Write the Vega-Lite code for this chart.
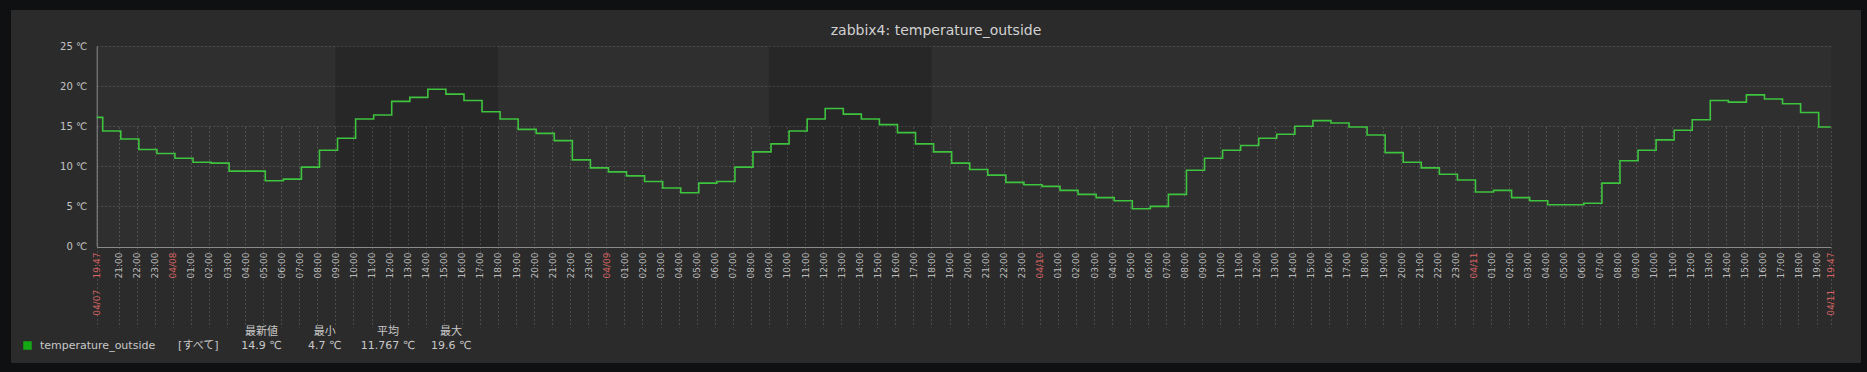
{
  "$schema": "https://vega.github.io/schema/vega-lite/v6.json",
  "width": 1850,
  "height": 353,
  "autosize": {"type": "none"},
  "padding": {"left": 11, "top": 10, "right": 6, "bottom": 9},
  "background": "#0f1012",
  "title": {
    "text": "zabbix4: temperature_outside",
    "anchor": "middle",
    "frame": "group",
    "offset": -39,
    "baseline": "alphabetic",
    "font": "DejaVu Sans",
    "fontSize": 14,
    "fontWeight": "normal",
    "color": "#d2d2d2"
  },
  "config": {
    "view": {"fill": "#2b2b2b", "stroke": null}
  },
  "datasets": {
    "temps": [
      {"t": "2021-04-07T19:47:00Z", "v": 16.1},
      {"t": "2021-04-07T20:07:00Z", "v": 14.4},
      {"t": "2021-04-07T21:07:00Z", "v": 13.4},
      {"t": "2021-04-07T22:07:00Z", "v": 12.1},
      {"t": "2021-04-07T23:07:00Z", "v": 11.6},
      {"t": "2021-04-08T00:07:00Z", "v": 11.0},
      {"t": "2021-04-08T01:07:00Z", "v": 10.5},
      {"t": "2021-04-08T02:07:00Z", "v": 10.4},
      {"t": "2021-04-08T03:07:00Z", "v": 9.4},
      {"t": "2021-04-08T04:07:00Z", "v": 9.4},
      {"t": "2021-04-08T05:07:00Z", "v": 8.2},
      {"t": "2021-04-08T06:07:00Z", "v": 8.4},
      {"t": "2021-04-08T07:07:00Z", "v": 9.9},
      {"t": "2021-04-08T08:07:00Z", "v": 12.0},
      {"t": "2021-04-08T09:07:00Z", "v": 13.5},
      {"t": "2021-04-08T10:07:00Z", "v": 15.9},
      {"t": "2021-04-08T11:07:00Z", "v": 16.4},
      {"t": "2021-04-08T12:07:00Z", "v": 18.1},
      {"t": "2021-04-08T13:07:00Z", "v": 18.6},
      {"t": "2021-04-08T14:07:00Z", "v": 19.6},
      {"t": "2021-04-08T15:07:00Z", "v": 19.0},
      {"t": "2021-04-08T16:07:00Z", "v": 18.2},
      {"t": "2021-04-08T17:07:00Z", "v": 16.8},
      {"t": "2021-04-08T18:07:00Z", "v": 15.9},
      {"t": "2021-04-08T19:07:00Z", "v": 14.6},
      {"t": "2021-04-08T20:07:00Z", "v": 14.1},
      {"t": "2021-04-08T21:07:00Z", "v": 13.2},
      {"t": "2021-04-08T22:07:00Z", "v": 10.8},
      {"t": "2021-04-08T23:07:00Z", "v": 9.8},
      {"t": "2021-04-09T00:07:00Z", "v": 9.3},
      {"t": "2021-04-09T01:07:00Z", "v": 8.8},
      {"t": "2021-04-09T02:07:00Z", "v": 8.1},
      {"t": "2021-04-09T03:07:00Z", "v": 7.3},
      {"t": "2021-04-09T04:07:00Z", "v": 6.7},
      {"t": "2021-04-09T05:07:00Z", "v": 7.9},
      {"t": "2021-04-09T06:07:00Z", "v": 8.1},
      {"t": "2021-04-09T07:07:00Z", "v": 9.9},
      {"t": "2021-04-09T08:07:00Z", "v": 11.8},
      {"t": "2021-04-09T09:07:00Z", "v": 12.8},
      {"t": "2021-04-09T10:07:00Z", "v": 14.4},
      {"t": "2021-04-09T11:07:00Z", "v": 15.9},
      {"t": "2021-04-09T12:07:00Z", "v": 17.2},
      {"t": "2021-04-09T13:07:00Z", "v": 16.5},
      {"t": "2021-04-09T14:07:00Z", "v": 15.9},
      {"t": "2021-04-09T15:07:00Z", "v": 15.2},
      {"t": "2021-04-09T16:07:00Z", "v": 14.2},
      {"t": "2021-04-09T17:07:00Z", "v": 12.8},
      {"t": "2021-04-09T18:07:00Z", "v": 11.8},
      {"t": "2021-04-09T19:07:00Z", "v": 10.4},
      {"t": "2021-04-09T20:07:00Z", "v": 9.6},
      {"t": "2021-04-09T21:07:00Z", "v": 8.9},
      {"t": "2021-04-09T22:07:00Z", "v": 8.0},
      {"t": "2021-04-09T23:07:00Z", "v": 7.7},
      {"t": "2021-04-10T00:07:00Z", "v": 7.5},
      {"t": "2021-04-10T01:07:00Z", "v": 7.0},
      {"t": "2021-04-10T02:07:00Z", "v": 6.5},
      {"t": "2021-04-10T03:07:00Z", "v": 6.1},
      {"t": "2021-04-10T04:07:00Z", "v": 5.7},
      {"t": "2021-04-10T05:07:00Z", "v": 4.7},
      {"t": "2021-04-10T06:07:00Z", "v": 5.0},
      {"t": "2021-04-10T07:07:00Z", "v": 6.5},
      {"t": "2021-04-10T08:07:00Z", "v": 9.5},
      {"t": "2021-04-10T09:07:00Z", "v": 11.0},
      {"t": "2021-04-10T10:07:00Z", "v": 12.0},
      {"t": "2021-04-10T11:07:00Z", "v": 12.6},
      {"t": "2021-04-10T12:07:00Z", "v": 13.5},
      {"t": "2021-04-10T13:07:00Z", "v": 14.0},
      {"t": "2021-04-10T14:07:00Z", "v": 15.0},
      {"t": "2021-04-10T15:07:00Z", "v": 15.7},
      {"t": "2021-04-10T16:07:00Z", "v": 15.4},
      {"t": "2021-04-10T17:07:00Z", "v": 14.9},
      {"t": "2021-04-10T18:07:00Z", "v": 13.9},
      {"t": "2021-04-10T19:07:00Z", "v": 11.7},
      {"t": "2021-04-10T20:07:00Z", "v": 10.5},
      {"t": "2021-04-10T21:07:00Z", "v": 9.8},
      {"t": "2021-04-10T22:07:00Z", "v": 9.0},
      {"t": "2021-04-10T23:07:00Z", "v": 8.3},
      {"t": "2021-04-11T00:07:00Z", "v": 6.8},
      {"t": "2021-04-11T01:07:00Z", "v": 7.0},
      {"t": "2021-04-11T02:07:00Z", "v": 6.1},
      {"t": "2021-04-11T03:07:00Z", "v": 5.7},
      {"t": "2021-04-11T04:07:00Z", "v": 5.2},
      {"t": "2021-04-11T05:07:00Z", "v": 5.2},
      {"t": "2021-04-11T06:07:00Z", "v": 5.4},
      {"t": "2021-04-11T07:07:00Z", "v": 7.9},
      {"t": "2021-04-11T08:07:00Z", "v": 10.7},
      {"t": "2021-04-11T09:07:00Z", "v": 12.0},
      {"t": "2021-04-11T10:07:00Z", "v": 13.3},
      {"t": "2021-04-11T11:07:00Z", "v": 14.5},
      {"t": "2021-04-11T12:07:00Z", "v": 15.8},
      {"t": "2021-04-11T13:07:00Z", "v": 18.2},
      {"t": "2021-04-11T14:07:00Z", "v": 18.0},
      {"t": "2021-04-11T15:07:00Z", "v": 18.9},
      {"t": "2021-04-11T16:07:00Z", "v": 18.4},
      {"t": "2021-04-11T17:07:00Z", "v": 17.8},
      {"t": "2021-04-11T18:07:00Z", "v": 16.7},
      {"t": "2021-04-11T19:07:00Z", "v": 14.9},
      {"t": "2021-04-11T19:47:00Z", "v": 14.9}
    ],
    "shade": [
      {"start": "2021-04-07T19:47:00Z", "end": "2021-04-08T09:00:00Z", "kind": "nonwork"},
      {"start": "2021-04-08T09:00:00Z", "end": "2021-04-08T18:00:00Z", "kind": "work"},
      {"start": "2021-04-08T18:00:00Z", "end": "2021-04-09T09:00:00Z", "kind": "nonwork"},
      {"start": "2021-04-09T09:00:00Z", "end": "2021-04-09T18:00:00Z", "kind": "work"},
      {"start": "2021-04-09T18:00:00Z", "end": "2021-04-11T19:47:00Z", "kind": "nonwork"}
    ],
    "table": [
      {"col": "mode", "row": "val", "txt": "[すべて]"},
      {"col": "last", "row": "hdr", "txt": "最新値"},
      {"col": "last", "row": "val", "txt": "14.9 ℃"},
      {"col": "min", "row": "hdr", "txt": "最小"},
      {"col": "min", "row": "val", "txt": "4.7 ℃"},
      {"col": "avg", "row": "hdr", "txt": "平均"},
      {"col": "avg", "row": "val", "txt": "11.767 ℃"},
      {"col": "max", "row": "hdr", "txt": "最大"},
      {"col": "max", "row": "val", "txt": "19.6 ℃"}
    ]
  },
  "layer": [
    {
      "layer": [
        {
          "data": {"name": "shade"},
          "transform": [{"filter": "datum.kind == 'nonwork'"}],
          "mark": {"type": "rect", "color": "#ffffff", "opacity": 0.025},
          "encoding": {
            "x": {"field": "start", "type": "temporal"},
            "x2": {"field": "end"},
            "y": {"datum": 0, "type": "quantitative"},
            "y2": {"datum": 25}
          }
        },
        {
          "data": {"name": "shade"},
          "transform": [{"filter": "datum.kind == 'work'"}],
          "mark": {"type": "rect", "color": "#000000", "opacity": 0.08},
          "encoding": {
            "x": {"field": "start", "type": "temporal"},
            "x2": {"field": "end"},
            "y": {"datum": 0, "type": "quantitative"},
            "y2": {"datum": 25}
          }
        },
        {
          "data": {"name": "temps"},
          "mark": {"type": "line", "interpolate": "step-after", "strokeWidth": 1.6},
          "encoding": {
            "x": {
              "field": "t",
              "type": "temporal",
              "scale": {"type": "utc", "domain": [1617824820000, 1618170420000], "range": [85.7, 1819.7], "nice": false},
              "axis": {
                "title": null,
                "orient": "bottom",
                "offset": -116,
                "tickCount": 500,
                "values": [1617824820000, 1617829200000, 1617832800000, 1617836400000, 1617840000000, 1617843600000, 1617847200000, 1617850800000, 1617854400000, 1617858000000, 1617861600000, 1617865200000, 1617868800000, 1617872400000, 1617876000000, 1617879600000, 1617883200000, 1617886800000, 1617890400000, 1617894000000, 1617897600000, 1617901200000, 1617904800000, 1617908400000, 1617912000000, 1617915600000, 1617919200000, 1617922800000, 1617926400000, 1617930000000, 1617933600000, 1617937200000, 1617940800000, 1617944400000, 1617948000000, 1617951600000, 1617955200000, 1617958800000, 1617962400000, 1617966000000, 1617969600000, 1617973200000, 1617976800000, 1617980400000, 1617984000000, 1617987600000, 1617991200000, 1617994800000, 1617998400000, 1618002000000, 1618005600000, 1618009200000, 1618012800000, 1618016400000, 1618020000000, 1618023600000, 1618027200000, 1618030800000, 1618034400000, 1618038000000, 1618041600000, 1618045200000, 1618048800000, 1618052400000, 1618056000000, 1618059600000, 1618063200000, 1618066800000, 1618070400000, 1618074000000, 1618077600000, 1618081200000, 1618084800000, 1618088400000, 1618092000000, 1618095600000, 1618099200000, 1618102800000, 1618106400000, 1618110000000, 1618113600000, 1618117200000, 1618120800000, 1618124400000, 1618128000000, 1618131600000, 1618135200000, 1618138800000, 1618142400000, 1618146000000, 1618149600000, 1618153200000, 1618156800000, 1618160400000, 1618164000000, 1618167600000, 1618170420000],
                "labelExpr": "utcminutes(datum.value) != 0 ? utcFormat(datum.value, '%m/%d\u00a0\u00a0\u00a0\u00a0%H:%M') : (utchours(datum.value) == 0 ? utcFormat(datum.value, '%m/%d') : utcFormat(datum.value, '%H:%M'))",
                "labelAngle": 270,
                "labelAlign": "right",
                "labelBaseline": "middle",
                "labelPadding": 5,
                "labelFont": "DejaVu Sans",
                "labelFontSize": 9,
                "labelColor": {"condition": {"test": "utcminutes(datum.value) != 0 || utchours(datum.value) == 0", "value": "#d96262"}, "value": "#bbbbbb"},
                "labelOverlap": false,
                "labelFlush": false,
                "labelBound": false,
                "ticks": false,
                "tickSize": 0,
                "domainColor": "#8a8a8a",
                "domainWidth": 1,
                "grid": true,
                "gridColor": "#4c4c4c",
                "gridDash": [2, 2],
                "gridWidth": 1
              }
            },
            "y": {
              "field": "v",
              "type": "quantitative",
              "scale": {"domain": [0, 25], "range": [236.5, 36], "nice": false, "zero": false},
              "axis": {
                "title": null,
                "orient": "left",
                "offset": -85.7,
                "values": [0, 5, 10, 15, 20, 25],
                "labelExpr": "datum.value + ' ℃'",
                "labelFont": "DejaVu Sans",
                "labelFontSize": 10,
                "labelColor": "#c4c4c4",
                "labelPadding": 10,
                "ticks": false,
                "tickSize": 0,
                "domainColor": "#8a8a8a",
                "grid": true,
                "gridColor": "#4c4c4c",
                "gridDash": [2, 2],
                "labelFlush": false,
                "labelBound": false
              }
            },
            "color": {
              "datum": "temperature_outside",
              "type": "nominal",
              "scale": {"range": ["#3ec43e"]},
              "legend": {
                "title": null,
                "orient": "none",
                "legendX": 11,
                "legendY": 330,
                "padding": 0,
                "symbolType": "square",
                "symbolSize": 72,
                "labelFont": "DejaVu Sans",
                "labelFontSize": 11,
                "labelColor": "#c8c8c8",
                "labelOffset": 7,
                "encode": {
                  "symbols": {
                    "update": {
                      "fill": {"value": "#14a814"},
                      "stroke": {"value": "#14a814"},
                      "strokeWidth": {"value": 0}
                    }
                  }
                }
              }
            }
          }
        }
      ]
    },
    {
      "data": {"name": "table"},
      "mark": {"type": "text", "font": "DejaVu Sans, Noto Sans CJK JP", "fontSize": 11, "color": "#c8c8c8", "align": "center", "baseline": "middle"},
      "encoding": {
        "x": {"field": "col", "type": "nominal", "scale": {"type": "point", "domain": ["mode", "last", "min", "avg", "max"], "range": [187.3, 440.1], "padding": 0}, "axis": null},
        "y": {"field": "row", "type": "nominal", "scale": {"type": "point", "domain": ["hdr", "val"], "range": [321.7, 336.2], "padding": 0}, "axis": null},
        "text": {"field": "txt"}
      }
    }
  ],
  "resolve": {"scale": {"x": "independent", "y": "independent"}}
}
